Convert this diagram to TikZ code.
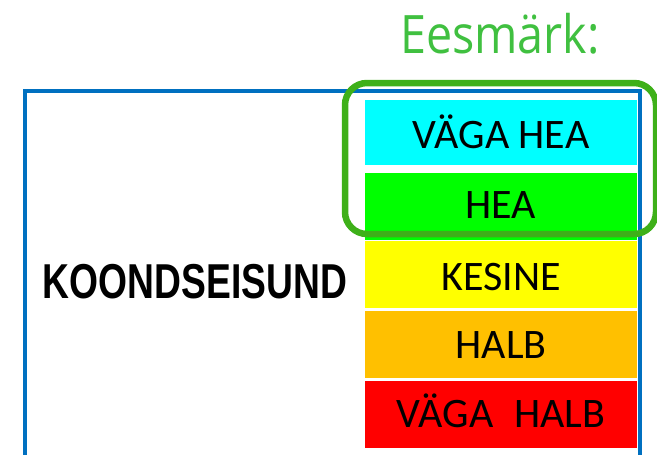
\documentclass[tikz,border=0pt]{standalone}
\usepackage{fontspec}
\setmainfont{Carlito}
\newfontfamily\headfont{Open Sans}
\newfontfamily\titlefont{Liberation Sans}
\definecolor{frameblue}{RGB}{0,112,192}
\definecolor{goalgreen}{RGB}{62,176,25}
\definecolor{goaltext}{RGB}{64,192,64}
\definecolor{lvcyan}{RGB}{0,255,255}
\definecolor{lvgreen}{RGB}{0,255,0}
\definecolor{lvyellow}{RGB}{255,255,0}
\definecolor{lvorange}{RGB}{255,192,0}
\definecolor{lvred}{RGB}{255,0,0}
\begin{document}
\begin{tikzpicture}[x=1pt,y=-1pt,
  levelbox/.style={fill=#1, draw=none, inner sep=0pt, minimum width=272pt, minimum height=67pt},
  leveltext/.style={anchor=base, inner sep=0pt, font=\fontsize{42}{42}\selectfont}]
\useasboundingbox (0,0) rectangle (657,455);
\clip (0,0) rectangle (657,455);
% blue frame
\draw[frameblue, line width=3.5pt] (25,470) -- (25,91) -- (640,91) -- (640,470);
% level boxes
\node[levelbox=lvcyan, minimum height=65pt] (b1) at (501,132.5) {};
\node[levelbox=lvgreen] (b2) at (501,206.5) {};
\node[levelbox=lvyellow] (b3) at (501,274.5) {};
\node[levelbox=lvorange] (b4) at (501,344.5) {};
\node[levelbox=lvred] (b5) at (501,414.5) {};
\node[leveltext] (t1) at (501,148) {VÄGA HEA};
\node[leveltext] (t2) at (501,218) {HEA};
\node[leveltext] (t3) at (501,290) {KESINE};
\node[leveltext] (t4) at (501,358) {HALB};
\node[leveltext] (t5) at (501,427) {VÄGA\hspace{0.5em}HALB};
% goal frame
\draw[goalgreen, line width=6.5pt, rounded corners=22pt] (345,83) rectangle (656,234);
% texts
\node[anchor=base, inner sep=0pt, text=goaltext] (goal) at (500,53)
  {\scalebox{0.88}[1]{\headfont\fontsize{53}{53}\selectfont Eesmärk:}};
\node[anchor=base, inner sep=0pt] (title) at (195,298)
  {\scalebox{0.76}[1]{\titlefont\bfseries\fontsize{49}{49}\selectfont KOONDSEISUND}};
\end{tikzpicture}
\end{document}
